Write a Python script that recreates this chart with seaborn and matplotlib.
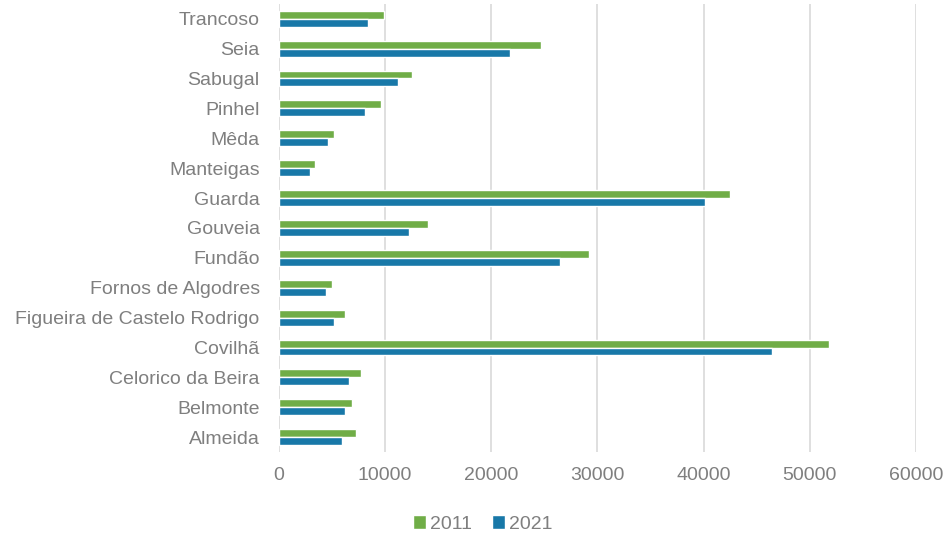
import matplotlib
matplotlib.use("Agg")
import matplotlib.pyplot as plt
import seaborn as sns
import pandas as pd

municipios = ["Trancoso", "Seia", "Sabugal", "Pinhel", "Mêda", "Manteigas", "Guarda",
              "Gouveia", "Fundão", "Fornos de Algodres", "Figueira de Castelo Rodrigo",
              "Covilhã", "Celorico da Beira", "Belmonte", "Almeida"]
pop_2011 = [9878, 24702, 12544, 9627, 5202, 3430, 42541, 14046, 29213, 4989, 6260,
            51797, 7693, 6859, 7242]
pop_2021 = [8389, 21736, 11189, 8088, 4633, 2909, 40126, 12209, 26503, 4381, 5175,
            46457, 6591, 6188, 5887]
anos = ["2011", "2021"]
xticks = [0, 10000, 20000, 30000, 40000, 50000, 60000]

df = pd.DataFrame({
    "Município": municipios * 2,
    "Ano": [anos[0]] * len(municipios) + [anos[1]] * len(municipios),
    "População": pop_2011 + pop_2021,
})

sns.set_theme(style="white")
plt.rcParams["font.family"] = ["Liberation Sans", "DejaVu Sans"]
text_color = "#7f7f7f"

fig = plt.figure(figsize=(9.46, 5.37), dpi=100)
ax = fig.add_axes([0.295, 0.158, 0.673, 0.835])
sns.barplot(data=df, y="Município", x="População", hue="Ano", order=municipios,
            hue_order=anos, palette=["#70ad47", "#1878a8"], orient="h",
            width=0.53, saturation=1, ax=ax, errorbar=None)

ax.set_xlim(0, 60000)
ax.set_xticks(xticks)
ax.set_xticklabels([str(t) for t in xticks])
ax.xaxis.grid(True, color="#d9d9d9", linewidth=1.2)
ax.set_axisbelow(True)
for s in ax.spines.values():
    s.set_visible(False)
ax.set_xlabel("")
ax.set_ylabel("")
ax.tick_params(axis="both", length=0, labelsize=14, labelcolor=text_color)
ax.tick_params(axis="y", pad=14)
ax.tick_params(axis="x", pad=11)

leg = ax.legend(loc="center", bbox_to_anchor=(0.32, -0.16), ncol=2, frameon=False,
                fontsize=14, handlelength=0.7, handleheight=0.7, handletextpad=0.2,
                columnspacing=1.0, borderaxespad=0)
for t in leg.get_texts():
    t.set_color(text_color)

fig.savefig("out.png", dpi=100)
